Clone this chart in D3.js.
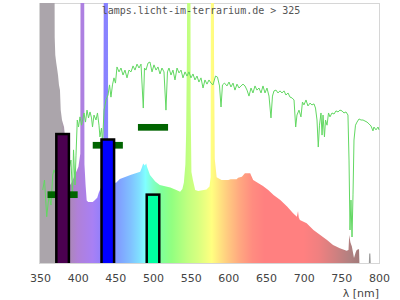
<!DOCTYPE html>
<html>
<head>
<meta charset="utf-8">
<script src="https://cdn.jsdelivr.net/npm/d3@7"></script>
<style>
body { margin: 0; background: #fff; }
svg { display: block; }
</style>
</head>
<body>
<svg id="chart" width="400" height="300"></svg>
<script>
// Tick labels on the wavelength axis
const lambdaTicks = [350, 400, 450, 500, 550, 600, 650, 700, 750, 800];

// Lamp spectrum (relative, % of plot height)
const lampNm = [350, 369, 369.5, 370.3, 371.6, 372.6, 373.9, 375.2, 376.5, 377.5, 379.2, 381.9, 384, 386, 388, 390,
  392, 395, 398, 401, 403.5, 404, 408.5, 409, 410.5, 412, 414, 420, 423, 426, 428, 431, 434, 435, 440, 440.5,
  445, 451, 456, 470, 483, 485, 487, 489, 491, 492, 496, 503, 509, 523, 531, 536, 539, 541, 543, 544, 545,
  546, 549.5, 550, 551, 553, 556, 560, 571, 575, 576.5, 577, 580.5, 581, 582, 584.5, 591, 600, 603, 611, 613,
  618, 622, 629, 633, 640, 646, 653, 660, 669, 678, 686, 691, 692.5, 693.5, 695, 704, 713, 722, 731, 739,
  748, 757, 759.5, 760.5, 762, 764, 766.8, 769, 770.4, 772.5, 773.5, 774, 786.5, 787, 788.5, 789, 800];
const lampVal = [150, 150, 86.9, 80, 76.9, 75, 72.3, 68.5, 66.5, 58.8, 55, 52.3, 46, 40, 34, 30,
  31, 33, 35, 37, 42, 150, 150, 38, 30, 24, 23.5, 23.5, 24.2, 25.1, 27, 29, 31, 150, 150, 33,
  31, 30.9, 32.3, 33.8, 35.1, 36.5, 38.3, 37.5, 38.3, 37, 33.8, 31.3, 30, 29, 28.1, 27.4, 28.5, 31, 38, 50, 80,
  150, 150, 60, 35, 31.9, 28.1, 27.7, 28.3, 29.4, 33, 150, 150, 80, 40, 33, 31.9, 31.9, 32.2, 32.2, 32.8,
  33.2, 34.5, 34.5, 31.9, 30.7, 29.6, 28.1, 26.2, 24.2, 21.7, 19.1, 17.8, 20, 17.5, 16.5, 15.3, 12.7, 10.8, 8.8, 6.9,
  5.7, 4.7, 5, 10.8, 8, 6.3, 1.9, 4, 5, 5.3, 5.3, 0, 0, 3.7, 3.7, 0, 0];

// Daylight reference spectrum (green line)
const sunNm = [353.6, 356, 358.9, 362, 364.6, 366.9, 368.6, 373.9, 380.5, 387.2, 391.1, 393.1, 394.5, 396.5, 397.8,
  399.5, 401.1, 403.1, 405.1, 408.4, 410.4, 412.4, 414.4, 416.4, 418.4, 419.7, 421.7, 424.3, 426.3, 428.3, 429.6,
  431.6, 433, 435, 437.6, 440.3, 442.3, 444.2, 446.2, 448.2, 450.2, 452.2, 454.9, 457.5, 460.2, 462.8, 465.5,
  468.1, 470.8, 473.5, 476.1, 478.8, 481.4, 484.1, 487.1, 488.7, 490.7, 493.4, 496, 498.7, 501.3, 504, 506.6,
  509.3, 511.9, 514.6, 517.2, 519.2, 521.2, 523.9, 526.5, 529.2, 531.9, 534.5, 537.2, 539.8, 542.5, 545.1, 547.8,
  550.4, 553.1, 555.7, 558.4, 561, 563.7, 566.4, 569, 571.7, 574.3, 577, 579.6, 583, 585.6, 588.3, 590.3, 592.2,
  594.9, 598.2, 600.9, 603.5, 606.2, 608.8, 611.5, 614.2, 616.8, 619.5, 622.1, 624.8, 627.4, 630.1, 632.7, 635.4,
  638, 640.7, 643.4, 646, 648.7, 651.3, 654, 656.6, 658.6, 660.6, 663.3, 665.9, 668.6, 671.2, 673.9, 676.5, 679.2,
  681.9, 684.5, 687.2, 689.4, 691.1, 693.8, 696.4, 698.4, 700.4, 703.1, 705.7, 708.4, 711, 713.7, 715.7, 717.7,
  719.4, 721, 723, 724.4, 725.7, 727.6, 729, 731, 733, 734.9, 737.6, 740.3, 742.9, 745.6, 748.2, 750.9, 753.5,
  756.2, 758.8, 760.2, 761.5, 762.8, 764.2, 765.5, 766.8, 768.8, 770.8, 773.5, 776.1, 778.8, 781.4, 784.1, 786.7,
  789.4, 792, 793.3, 796, 798.7, 800];
const sunVal = [28.1, 31.9, 17.8, 26.2, 22.3, 33.8, 35.8, 31.9, 26.2, 33.8, 39.6, 26.2, 43.5, 30, 41.5,
  55, 52.3, 56.2, 53, 57.7, 54.2, 58.8, 55.8, 58.1, 55.8, 52.3, 56.9, 55, 57.7, 53, 48.5,
  51.9, 46.2, 58.8, 62.7, 64.6, 68.5, 63.8, 68.5, 71.2, 69.2, 75.4, 73.5, 75, 72.3, 74.2, 71.2,
  74.2, 73.5, 75.8, 74.2, 76.5, 75, 76.5, 59.6, 75, 74.2, 76.9, 77.3, 73.5, 76.2, 74.2, 75.4,
  72.7, 75, 73.5, 58.8, 73.5, 75, 72.3, 74.2, 70.4, 75, 73.1, 74.2, 71.2, 73.5, 71.9, 73.5,
  71.2, 72.7, 70.4, 71.9, 69.6, 71.2, 67.3, 70.4, 68.8, 70.4, 69.2, 68.5, 71.9, 71.5, 68.1, 60, 68.5,
  69.2, 68.1, 69.6, 67.7, 69.2, 66.5, 68.8, 67.3, 68.1, 68.8, 68.1, 66.5, 64.2, 67.3, 65.4, 68.1,
  66.5, 67.3, 65.4, 68.1, 65.4, 67.3, 64.2, 55.8, 64.2, 66.2, 66.5, 65.4, 66.2, 65.4, 66.2, 64.6, 65.4,
  63.8, 63.5, 62.7, 52.3, 56.9, 58.8, 56.2, 61.9, 60.8, 62.7, 60.4, 61.5, 60.8, 61.2, 59.6, 55,
  44.6, 53, 57.7, 49.2, 56.9, 48.5, 55, 53, 57.7, 56.2, 57.7, 57.3, 58.5, 58.1, 58.8, 58.5, 57.7,
  58.1, 56.9, 39.6, 12.7, 24.2, 10, 26.2, 47.3, 53, 54.2, 55.4, 55, 55, 54.6, 54.2, 53.5,
  52.7, 50.8, 52.3, 51.2, 52.3, 51.2];

// Receptor bars and their markers
const barNm = [380, 440, 500];
const barVal = [49.6, 47.5, 26.3];
const barColor = ["#4b0050", "#0000ff", "#00ffa0"];
const markNm = [380, 440, 500];
const markVal = [26.3, 45.3, 52.2];

// Wavelength colours used for the spectrum fill
const colorNm = [350, 378, 386, 400, 420, 436, 455, 470, 482, 490, 500, 512, 525, 546, 560, 578, 590, 600, 615, 632, 648, 700, 720, 742, 762, 776, 782, 800];
const colorHex = ["#aba5ab", "#aba5ab", "#a98aae", "#b080d8", "#a880f4", "#8a80ff", "#80a0ff", "#80c0ff", "#80e0ff", "#80ffff", "#80ffc8", "#80ff98", "#92ff80", "#c0ff80", "#d8ff80", "#ffff80", "#ffe080", "#ffc880", "#ffa880", "#ff8c80", "#ff8080", "#ff8080", "#f08080", "#d08080", "#b08080", "#a07878", "#999999", "#999999"];

const svg = d3.select("#chart");
const x = d3.scaleLinear().domain([350, 800]).range([40, 379]);
const y = d3.scaleLinear().domain([0, 100]).range([263, 3]);

const defs = svg.append("defs");
defs.append("clipPath").attr("id", "plot-clip")
  .append("rect").attr("x", 40).attr("y", 3).attr("width", 340).attr("height", 260);

const grad = defs.append("linearGradient")
  .attr("id", "lambda-grad")
  .attr("gradientUnits", "userSpaceOnUse")
  .attr("x1", x(350)).attr("x2", x(800)).attr("y1", 0).attr("y2", 0);
colorNm.forEach((nm, i) => {
  grad.append("stop")
    .attr("offset", (nm - 350) / 450)
    .attr("stop-color", colorHex[i]);
});

// plot frame
svg.append("rect")
  .attr("x", 39.5).attr("y", 3.5).attr("width", 340).attr("height", 260)
  .attr("fill", "none").attr("stroke", "#d6d6d6");

const plot = svg.append("g").attr("clip-path", "url(#plot-clip)");

// lamp spectrum
const lampData = lampNm.map((nm, i) => ({ nm, v: lampVal[i] }));
plot.append("path")
  .datum(lampData)
  .attr("fill", "url(#lambda-grad)")
  .attr("d", d3.area().x(d => x(d.nm)).y0(y(0)).y1(d => y(d.v)));

// daylight line
const sunData = sunNm.map((nm, i) => ({ nm, v: sunVal[i] }));
plot.append("path")
  .datum(sunData)
  .attr("fill", "none")
  .attr("stroke", "#62d862")
  .attr("stroke-width", 1)
  .attr("d", d3.line().x(d => x(d.nm)).y(d => y(d.v)));

// markers (dark green)
plot.selectAll(".mark")
  .data(markNm)
  .enter()
  .append("rect")
  .attr("class", "mark")
  .attr("x", d => x(d - 20))
  .attr("width", d => x(d + 20) - x(d - 20))
  .attr("y", (d, i) => y(markVal[i]) - 3.3)
  .attr("height", 6.7)
  .attr("fill", "#006400");

// bars
plot.selectAll(".bar")
  .data(barNm)
  .enter()
  .append("rect")
  .attr("class", "bar")
  .attr("x", d => x(d - 10) + 1.25)
  .attr("width", d => x(d + 10) - x(d - 10) - 2.5)
  .attr("y", (d, i) => y(barVal[i]))
  .attr("height", (d, i) => y(0) - y(barVal[i]) + 2)
  .attr("fill", (d, i) => barColor[i])
  .attr("stroke", "#000")
  .attr("stroke-width", 2.5);

// x axis labels
const axis = svg.append("g")
  .attr("transform", `translate(0,${y(0)})`)
  .call(d3.axisBottom(x).tickValues(lambdaTicks).tickSize(0).tickPadding(11).tickFormat(d3.format("d")));
axis.select(".domain").remove();
axis.selectAll("text")
  .attr("fill", "#444")
  .style("font-family", "DejaVu Sans")
  .style("font-size", "11px");

svg.append("text")
  .attr("x", 379).attr("y", 297)
  .attr("text-anchor", "end")
  .attr("fill", "#444")
  .style("font-family", "DejaVu Sans")
  .style("font-size", "11px")
  .text("λ [nm]");

svg.append("text")
  .attr("x", 201).attr("y", 14)
  .attr("text-anchor", "middle")
  .attr("fill", "#555")
  .style("font-family", "DejaVu Sans Mono")
  .style("font-size", "10px")
  .text("lamps.licht-im-terrarium.de > 325");
</script>
</body>
</html>
